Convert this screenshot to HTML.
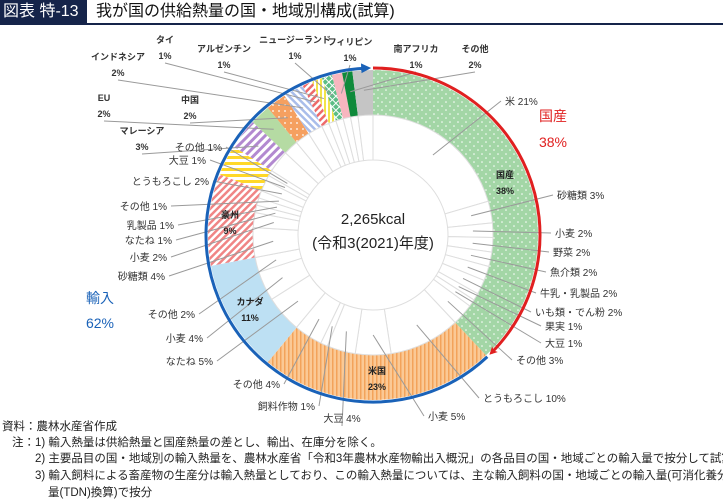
<!DOCTYPE html>
<html><head><meta charset="utf-8"><style>
body{margin:0;background:#fff;width:723px;height:504px;overflow:hidden;font-family:"Liberation Sans","Noto Sans CJK JP",sans-serif;}
svg text{font-family:"Liberation Sans","Noto Sans CJK JP",sans-serif;}
.note{position:absolute;font-size:11.5px;color:#222;white-space:nowrap;}
</style></head><body>
<div style="position:absolute;left:0;top:0;width:87px;height:23px;background:#15244a;color:#fff;font-size:16px;line-height:23px;padding-left:3px;box-sizing:border-box;font-family:'Liberation Sans','Noto Sans CJK JP',sans-serif;">図表 特-13</div>
<div style="position:absolute;left:96px;top:0;height:23px;font-size:16px;line-height:23px;color:#111;">我が国の供給熱量の国・地域別構成(試算)</div>
<div style="position:absolute;left:0;top:23px;width:723px;height:2px;background:#15244a;"></div>
<svg id="chart" width="723" height="504" style="position:absolute;left:0;top:0">
<defs>
<pattern id="p0" width="8" height="8" patternUnits="userSpaceOnUse"><rect width="8" height="8" fill="#a3d6a6"/><circle cx="2" cy="2" r="0.8" fill="#fff"/><circle cx="6" cy="6" r="0.8" fill="#fff"/></pattern>
<pattern id="p1" width="4" height="4" patternUnits="userSpaceOnUse"><rect width="4" height="4" fill="#fbc995"/><rect width="1.5" height="4" fill="#f3a35a"/></pattern>
<pattern id="p2" width="4" height="4" patternUnits="userSpaceOnUse"><rect width="4" height="4" fill="#bde0f3"/></pattern>
<pattern id="p3" width="5" height="5" patternUnits="userSpaceOnUse" patternTransform="rotate(45)"><rect width="5" height="5" fill="#fff"/><rect width="2.5" height="5" fill="#f08585"/></pattern>
<pattern id="p4" width="6" height="6" patternUnits="userSpaceOnUse"><rect width="6" height="6" fill="#fff"/><rect width="6" height="3" fill="#ffd829"/></pattern>
<pattern id="p5" width="6" height="6" patternUnits="userSpaceOnUse" patternTransform="rotate(45)"><rect width="6" height="6" fill="#fff"/><rect width="3" height="6" fill="#b289d0"/></pattern>
<pattern id="p6" width="4" height="4" patternUnits="userSpaceOnUse"><rect width="4" height="4" fill="#b5dba3"/></pattern>
<pattern id="p7" width="6" height="6" patternUnits="userSpaceOnUse"><rect width="6" height="6" fill="#f5a060"/><circle cx="3" cy="3" r="0.9" fill="#fff"/></pattern>
<pattern id="p8" width="5" height="5" patternUnits="userSpaceOnUse" patternTransform="rotate(-45)"><rect width="5" height="5" fill="#fff"/><rect width="2.5" height="5" fill="#a9bdea"/></pattern>
<pattern id="p9" width="5" height="5" patternUnits="userSpaceOnUse" patternTransform="rotate(45)"><rect width="5" height="5" fill="#fff"/><rect width="2.5" height="5" fill="#ee6a6a"/></pattern>
<pattern id="p10" width="4" height="4" patternUnits="userSpaceOnUse"><rect width="4" height="4" fill="#fff"/><rect width="2" height="4" fill="#f2e34a"/></pattern>
<pattern id="p11" width="5" height="5" patternUnits="userSpaceOnUse" patternTransform="rotate(45)"><rect width="5" height="5" fill="#5cbd86"/><rect width="1" height="5" fill="#fff"/><rect width="5" height="1" fill="#fff"/></pattern>
<pattern id="p12" width="4" height="4" patternUnits="userSpaceOnUse"><rect width="4" height="4" fill="#f7b6bf"/></pattern>
<pattern id="p13" width="4" height="4" patternUnits="userSpaceOnUse"><rect width="4" height="4" fill="#0f8a3b"/></pattern>
<pattern id="p14" width="4" height="4" patternUnits="userSpaceOnUse"><rect width="4" height="4" fill="#c5c5c5"/></pattern>
<marker id="arrR" markerWidth="8" markerHeight="8" refX="5" refY="4" orient="auto" markerUnits="userSpaceOnUse"><path d="M0,0 L8,4 L0,8 L2,4 Z" fill="#e02020"/></marker>
<marker id="arrB" markerWidth="10" markerHeight="10" refX="6" refY="5" orient="auto" markerUnits="userSpaceOnUse"><path d="M0,0 L10,5 L0,10 Z" fill="#1a62b8"/></marker>
</defs>
<g id="outer"></g><g id="inner"></g><g id="leaders"></g><g id="labels"></g><g id="arcs"></g>
<text x="373" y="224" text-anchor="middle" font-size="15" fill="#222">2,265kcal</text>
<text x="373" y="248" text-anchor="middle" font-size="15" fill="#222">(令和3(2021)年度)</text>
<text x="553" y="121" text-anchor="middle" font-size="14" fill="#e02020">国産</text>
<text x="553" y="147" text-anchor="middle" font-size="14" fill="#e02020">38%</text>
<text x="100" y="303" text-anchor="middle" font-size="14" fill="#1a62b8">輸入</text>
<text x="100" y="328" text-anchor="middle" font-size="14" fill="#1a62b8">62%</text>
</svg>
<div class="note" style="left:2px;top:418px;">資料：農林水産省作成</div>
<div class="note" style="left:12px;top:434px;">注：1) 輸入熱量は供給熱量と国産熱量の差とし、輸出、在庫分を除く。</div>
<div class="note" style="left:35px;top:450px;">2) 主要品目の国・地域別の輸入熱量を、農林水産省「令和3年農林水産物輸出入概況」の各品目の国・地域ごとの輸入量で按分して試算</div>
<div class="note" style="left:35px;top:467px;">3) 輸入飼料による畜産物の生産分は輸入熱量としており、この輸入熱量については、主な輸入飼料の国・地域ごとの輸入量(可消化養分総</div>
<div class="note" style="left:48px;top:484px;">量(TDN)換算)で按分</div>
<script>
const countries=['国産','米国','カナダ','豪州','ブラジル','マレーシア','EU','中国','インドネシア','タイ','アルゼンチン','ニュージーランド','フィリピン','南アフリカ','その他'];
const shares=[38,23,11,9,3,3,2,2,2,1,1,1,1,1,2];
const subNames=[['米','砂糖類','小麦','野菜','魚介類','牛乳・乳製品','いも類・でん粉','果実','大豆','その他'],['とうもろこし','小麦','大豆','飼料作物','その他'],['なたね','小麦','その他'],['砂糖類','小麦','なたね','乳製品','その他'],['とうもろこし','大豆','その他'],['マレーシア'],['EU'],['中国'],['インドネシア'],['タイ'],['アルゼンチン'],['ニュージーランド'],['フィリピン'],['南アフリカ'],['その他']];
const subValues=[[21,3,2,2,2,2,2,1,1,3],[10,5,4,1,4],[5,4,2],[4,2,1,1,1],[2,1,1],[3],[2],[2],[2],[1],[1],[1],[1],[1],[2]];
const subLabelPos=[
 [[505,105,'start'],[557,199,'start'],[555,237,'start'],[553,256,'start'],[550,276,'start'],[540,297,'start'],[535,316,'start'],[545,330,'start'],[545,347,'start'],[516,364,'start']],
 [[483,402,'start'],[428,420,'start'],[342,422,'middle'],[315,410,'end'],[280,388,'end']],
 [[213,365,'end'],[203,342,'end'],[195,318,'end']],
 [[165,280,'end'],[167,261,'end'],[172,244,'end'],[174,229,'end'],[167,210,'end']],
 [[209,185,'end'],[206,164,'end'],[222,151,'end']],
 [[142,134,'middle']],[[104,101,'middle']],[[190,103,'middle']],[[118,60,'middle']],[[165,43,'middle']],[[224,52,'middle']],[[295,43,'middle']],[[350,45,'middle']],[[416,52,'middle']],[[475,52,'middle']]
];
const inRing=[[505,178],[377,374],[250,305],[230,218]];
const cx=373,cy=235,R1=165,R0=120,R2=75;
const ns='http://www.w3.org/2000/svg';
function pt(a,r){const t=a*Math.PI/180;return [cx+r*Math.sin(t),cy-r*Math.cos(t)];}
function arcPath(a0,a1,ro,ri){const p0=pt(a0,ro),p1=pt(a1,ro),p2=pt(a1,ri),p3=pt(a0,ri);const lg=(a1-a0)>180?1:0;
 return `M${p0[0]},${p0[1]} A${ro},${ro} 0 ${lg} 1 ${p1[0]},${p1[1]} L${p2[0]},${p2[1]} A${ri},${ri} 0 ${lg} 0 ${p3[0]},${p3[1]} Z`;}
function mk(tag,attrs,parent){const e=document.createElementNS(ns,tag);for(const k in attrs)e.setAttribute(k,attrs[k]);document.getElementById(parent).appendChild(e);return e;}
const total=shares.reduce((a,b)=>a+b,0);
let acc=0;
countries.forEach((c,i)=>{
 const a0=acc/total*360,a1=(acc+shares[i])/total*360;acc+=shares[i];
 const p=mk('path',{d:arcPath(a0,a1,R1,R0),fill:`url(#p${i})`},'outer');
 
 
 const st=subValues[i].reduce((a,b)=>a+b,0);let s=0;
 subValues[i].forEach((v,j)=>{
  const b0=a0+(a1-a0)*s/st,b1=a0+(a1-a0)*(s+v)/st;s+=v;
  const q=mk('path',{d:arcPath(b0,b1,R0,R2),fill:'#fff',stroke:'#dedede','stroke-width':1},'inner');
  
  
  const lp=subLabelPos[i][j];
  const single=subValues[i].length===1;
  const m=(b0+b1)/2;const sp=single?pt(m,R0+25):pt(m,R0-20);
  let ex=lp[0],ey=lp[1]-4;
  if(lp[2]==='start')ex-=4; else if(lp[2]==='end')ex+=4; else ey=lp[1]+(single?20:4);
  const l=mk('line',{x1:sp[0],y1:sp[1],x2:ex,y2:ey,stroke:'#9a9a9a','stroke-width':1},'leaders');
  
  
  if(single){
   const t1=mk('text',{x:lp[0],y:lp[1],'text-anchor':'middle','font-size':9,'font-weight':'bold',fill:'#333'},'labels');t1.textContent=c;
   
   
   const t2=mk('text',{x:lp[0],y:lp[1]+16,'text-anchor':'middle','font-size':9,'font-weight':'bold',fill:'#333'},'labels');t2.textContent=shares[i]+'%';
   
   
  }else{
   const t=mk('text',{x:lp[0],y:lp[1],'text-anchor':lp[2],'font-size':10,fill:'#333'},'labels');t.textContent=subNames[i][j]+' '+v+'%';
   
   
  }
 });
 if(i<4){const ir=inRing[i];
  const t1=mk('text',{x:ir[0],y:ir[1],'text-anchor':'middle','font-size':9,'font-weight':'bold',fill:'#222'},'labels');t1.textContent=c;
  
  
  const t2=mk('text',{x:ir[0],y:ir[1]+16,'text-anchor':'middle','font-size':9,'font-weight':'bold',fill:'#222'},'labels');t2.textContent=shares[i]+'%';
  
  
 }
});
const dom=shares[0]/total*360, RA=167;
function arcLine(a0,a1,r){const p0=pt(a0,r),p1=pt(a1,r);return `M${p0[0]},${p0[1]} A${r},${r} 0 ${(a1-a0)>180?1:0} 1 ${p1[0]},${p1[1]}`;}
const ra=mk('path',{d:arcLine(0,dom-2,RA),fill:'none',stroke:'#e02020','stroke-width':3,'marker-end':'url(#arrR)'},'arcs');


const ba=mk('path',{d:arcLine(dom,358,RA),fill:'none',stroke:'#1a62b8','stroke-width':3,'marker-end':'url(#arrB)'},'arcs');


</script>
</body></html>
